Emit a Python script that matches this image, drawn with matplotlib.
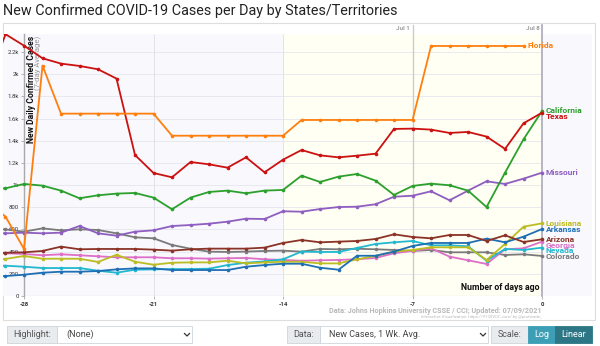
import numpy as np
import matplotlib.pyplot as plt
from matplotlib.patches import Rectangle
from matplotlib.lines import Line2D

# === Data (days ago, -30 .. 0) ===
days = np.arange(-30, 1)

texas = [1900, 2360, 2257, 2143, 2095, 2074, 2044, 1960, 1271, 1109, 1070,
         1208, 1187, 1157, 1250, 1115, 1229, 1316, 1268, 1250, 1265, 1283,
         1506, 1509, 1500, 1470, 1479, 1437, 1326, 1557, 1653]
florida = [850, 716, 424, 2077, 1644, 1644, 1644, 1644, 1644, 1644, 1445,
           1445, 1445, 1445, 1445, 1445, 1445, 1587, 1587, 1587, 1587, 1587,
           1587, 1587, 2254, 2254, 2254, 2254, 2254, 2254, np.nan]
california = [960, 971, 1010, 995, 950, 881, 908, 923, 929, 887, 782,
              887, 938, 950, 926, 950, 956, 1085, 1028, 1076, 1100, 1040,
              911, 992, 1013, 998, 950, 802, 1112, 1413, 1668]
missouri = [560, 565, 571, 565, 571, 631, 565, 544, 580, 592, 631,
            640, 652, 670, 697, 694, 764, 760, 784, 802, 805, 827,
            895, 904, 944, 863, 950, 1034, 1010, 1058, 1112]
colorado = [600, 600, 580, 610, 592, 601, 595, 565, 529, 520, 460,
            426, 400, 397, 400, 406, 409, 400, 424, 421, 426, 421,
            415, 406, 415, 394, 394, 394, 370, 376, 361]
arizona = [390, 390, 394, 406, 445, 421, 424, 424, 424, 418, 409,
           421, 427, 427, 427, 436, 478, 505, 484, 490, 496, 514,
           556, 532, 520, 550, 550, 496, 547, 487, 511]
georgia = [385, 385, 379, 367, 376, 367, 358, 349, 349, 349, 340,
           340, 337, 340, 343, 331, 325, 318, 322, 325, 331, 343,
           385, 406, 430, 355, 322, 289, 421, 430, 490]
nevada = [275, 273, 264, 252, 252, 252, 228, 210, 237, 240, 243,
          243, 246, 279, 300, 312, 331, 400, 397, 397, 433, 469,
          484, 496, 457, 457, 448, 318, 424, 415, 436]
arkansas = [175, 180, 192, 210, 219, 219, 225, 240, 249, 249, 234,
            234, 234, 234, 264, 279, 291, 291, 255, 237, 363, 363,
            400, 451, 478, 478, 478, 517, 484, 535, 604]
louisiana = [330, 334, 361, 336, 336, 336, 307, 372, 309, 282, 300,
             303, 303, 318, 294, 303, 309, 309, 294, 294, 331, 361,
             400, 415, 439, 439, 439, 325, 469, 625, 655]

series = [
    ("Colorado", colorado, "#7a7a7a"),
    ("Georgia", georgia, "#dd6fc6"),
    ("Nevada", nevada, "#22b8cf"),
    ("Louisiana", louisiana, "#bcbd22"),
    ("Arkansas", arkansas, "#1f6fb4"),
    ("Arizona", arizona, "#8b3326"),
    ("Missouri", missouri, "#8e5ec0"),
    ("California", california, "#2ca02c"),
    ("Texas", texas, "#cc1111"),
    ("Florida", florida, "#ff7f0e"),
]

y_ticks = [0, 200, 400, 600, 800, 1000, 1200, 1400, 1600, 1800, 2000, 2200]
y_tick_labels = ["0", "200", "400", "600", "800", "1k", "1.2k", "1.4k",
                 "1.6k", "1.8k", "2k", "2.2k"]
x_ticks = [-28, -21, -14, -7, 0]

W, H = 600, 346


def fx(x):
    return x / W


def fy(y):
    return 1 - y / H


fig = plt.figure(figsize=(6, 3.46), dpi=100)
fig.patch.set_facecolor("white")
plt.rcParams["font.family"] = ["Roboto", "DejaVu Sans"]

# outer chart frame (behind the axes)
frame = Rectangle((fx(3), fy(320)), fx(592), 297 / H,
                  transform=fig.transFigure, facecolor="white",
                  edgecolor="#dddddd", lw=0.8, zorder=-5)
fig.patches.append(frame)

ax = fig.add_axes([fx(3), fy(296), fx(589), 262 / H])
ax.set_zorder(1)
ax.set_facecolor("#f8f8fd")
ax.set_xlim(-29.135, 2.70)
ax.set_ylim(0, 2362)

# last-two-weeks shading
ax.axvspan(-14, 0, color="#fffff3", zorder=0, lw=0)

# grid
ax.hlines(y_ticks[1:], -28, 0, color="#e6e6ee", lw=0.6, zorder=1)
ax.vlines([-21, -14], 0, 2362, color="#e2e2ea", lw=0.7, zorder=1)
ax.plot([-7, -7], [0, 2440], color="#cccccc", lw=1.0, zorder=1, clip_on=False)
ax.plot([0, 0], [0, 2440], color="#a9a9bb", lw=1.2, zorder=1, clip_on=False)
ax.text(-7.15, 2390, "Jul 1", ha="right", va="bottom", fontsize=4.5,
        color="#999999", fontweight="bold")
ax.text(-0.15, 2390, "Jul 8", ha="right", va="bottom", fontsize=4.5,
        color="#999999", fontweight="bold")

# axes spines
for s in ["top", "right", "bottom"]:
    ax.spines[s].set_visible(False)
ax.spines["left"].set_position(("data", -28))
ax.spines["left"].set_color("#aaaaaa")
ax.spines["left"].set_linewidth(1.0)
ax.hlines(0, -28, 0, color="#aaaaaa", lw=0.8, zorder=2)

ax.set_yticks(y_ticks)
ax.set_yticklabels(y_tick_labels)
ax.set_xticks(x_ticks)
ax.set_xticklabels([str(t) for t in x_ticks])
ax.tick_params(axis="y", labelsize=4.3, colors="#aaaaaa", labelcolor="#333333",
               length=2.5, width=0.6, pad=1)
ax.tick_params(axis="x", labelsize=4.3, colors="#aaaaaa", labelcolor="#333333",
               length=2.5, width=0.6, pad=1.5)
for lbl in ax.get_xticklabels():
    lbl.set_fontweight("bold")

# axis titles inside the plot
ax.text(-27.62, 2345, "New Daily Confirmed Cases", rotation=90, ha="center",
        va="top", fontsize=6.2, fontweight="bold", color="#111111")
ax.text(-27.22, 2345, "(7-day Average)", rotation=90, ha="center", va="top",
        fontsize=5.6, color="#999999")
ax.text(-0.12, 40, "Number of days ago", ha="right", va="bottom",
        fontsize=6.3, fontweight="bold", color="#111111")

# series lines
ends = []
for name, vals, col in series:
    v = np.array(vals, dtype=float)
    ax.plot(days, v, color=col, lw=1.3, marker="o", markersize=2.6,
            markeredgewidth=0, zorder=3, solid_joinstyle="round")
    last = np.where(~np.isnan(v))[0][-1]
    ends.append((v[last], days[last], name, col))

# label placement: push labels down so they don't overlap
ends.sort(key=lambda e: -e[0])
gap = 52
prev = None
for val, d, name, col in ends:
    y = val if prev is None else min(val, prev - gap)
    prev = y
    ax.text(d + 0.2, y, name, ha="left", va="center", fontsize=6,
            fontweight="bold", color=col, zorder=4, clip_on=False)

# title
fig.text(fx(3), fy(15), "New Confirmed COVID-19 Cases per Day by States/Territories",
         ha="left", va="baseline", fontsize=10.4, color="#222222")

# source note
fig.text(fx(542), fy(311), "Data: Johns Hopkins University CSSE / CCI; Updated: 07/09/2021",
         ha="right", va="center", fontsize=5.2, fontweight="bold", color="#b8b8b8")
fig.text(fx(542), fy(317), "Interactive Visualization: https://91-DIVOC.com/ by @profwade_",
         ha="right", va="center", fontsize=3.1, color="#bbbbbb")


# bottom controls
def box(x0, x1, face, edge="#ced4da"):
    fig.patches.append(Rectangle((fx(x0), fy(343)), fx(x1 - x0), 17 / H,
                                 transform=fig.transFigure, facecolor=face,
                                 edgecolor=edge, lw=0.6, zorder=1))


def chevron(x):
    fig.lines.append(Line2D([fx(x - 2.5), fx(x), fx(x + 2.5)],
                            [fy(333.5), fy(336), fy(333.5)],
                            transform=fig.transFigure, color="#333333", lw=0.9))


box(7, 57, "#e9ecef")
fig.text(fx(32), fy(334.5), "Highlight:", ha="center", va="center", fontsize=6.5, color="#555555")
box(57, 192, "white")
fig.text(fx(66), fy(334.5), "(None)", ha="left", va="center", fontsize=6.5, color="#444444")
chevron(187)

box(287, 320, "#e9ecef")
fig.text(fx(303.5), fy(334.5), "Data:", ha="center", va="center", fontsize=6.5, color="#555555")
box(320, 488, "white")
fig.text(fx(329), fy(334.5), "New Cases, 1 Wk. Avg.", ha="left", va="center", fontsize=6.5, color="#444444")
chevron(483)

box(491, 528, "#e9ecef")
fig.text(fx(509.5), fy(334.5), "Scale:", ha="center", va="center", fontsize=6.5, color="#555555")
box(528, 555, "#3d9fb6", edge="#3d9fb6")
fig.text(fx(541.5), fy(334.5), "Log", ha="center", va="center", fontsize=6.5, color="white")
box(555, 592, "#2c7685", edge="#2c7685")
fig.text(fx(573.5), fy(334.5), "Linear", ha="center", va="center", fontsize=6.5, color="white")

fig.savefig("out.png", dpi=100)
